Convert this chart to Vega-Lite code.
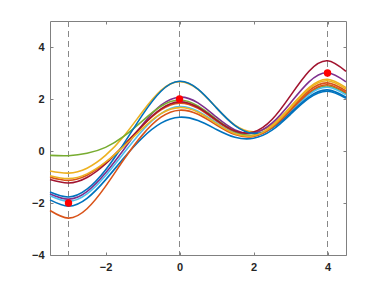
{
"$schema": "https://vega.github.io/schema/vega-lite/v6.json",
"width": 296, "height": 234,
"autosize": {"type": "none"},
"padding": {"left": 50, "top": 21, "right": 36, "bottom": 31},
"background": "white",
"config": {"view": {"stroke": null}, "font": "Liberation Sans"},
"datasets": {
"curves": [
{"c":"c01","x":-3.5,"y":-1.88},{"c":"c01","x":-3,"y":-2.12},{"c":"c01","x":-2.5,"y":-1.82},{"c":"c01","x":-2,"y":-1.11},{"c":"c01","x":-1.5,"y":-0.26},{"c":"c01","x":-1,"y":0.51},{"c":"c01","x":-0.5,"y":1.07},{"c":"c01","x":0,"y":1.30},{"c":"c01","x":0.5,"y":1.17},{"c":"c01","x":1,"y":0.83},{"c":"c01","x":1.5,"y":0.53},{"c":"c01","x":2,"y":0.49},{"c":"c01","x":2.5,"y":0.80},{"c":"c01","x":3,"y":1.41},{"c":"c01","x":3.5,"y":2.03},{"c":"c01","x":4,"y":2.30},{"c":"c01","x":4.5,"y":2.03},
{"c":"c02","x":-3.5,"y":-1.01},{"c":"c02","x":-3,"y":-1.13},{"c":"c02","x":-2.5,"y":-0.93},{"c":"c02","x":-2,"y":-0.45},{"c":"c02","x":-1.5,"y":0.23},{"c":"c02","x":-1,"y":0.97},{"c":"c02","x":-0.5,"y":1.58},{"c":"c02","x":0,"y":1.84},{"c":"c02","x":0.5,"y":1.64},{"c":"c02","x":1,"y":1.15},{"c":"c02","x":1.5,"y":0.72},{"c":"c02","x":2,"y":0.60},{"c":"c02","x":2.5,"y":0.93},{"c":"c02","x":3,"y":1.61},{"c":"c02","x":3.5,"y":2.32},{"c":"c02","x":4,"y":2.62},{"c":"c02","x":4.5,"y":2.31},
{"c":"c03","x":-3.5,"y":-0.77},{"c":"c03","x":-3,"y":-0.85},{"c":"c03","x":-2.5,"y":-0.66},{"c":"c03","x":-2,"y":-0.17},{"c":"c03","x":-1.5,"y":0.58},{"c":"c03","x":-1,"y":1.51},{"c":"c03","x":-0.5,"y":2.33},{"c":"c03","x":0,"y":2.67},{"c":"c03","x":0.5,"y":2.37},{"c":"c03","x":1,"y":1.66},{"c":"c03","x":1.5,"y":0.99},{"c":"c03","x":2,"y":0.74},{"c":"c03","x":2.5,"y":1.01},{"c":"c03","x":3,"y":1.70},{"c":"c03","x":3.5,"y":2.44},{"c":"c03","x":4,"y":2.76},{"c":"c03","x":4.5,"y":2.44},
{"c":"c04","x":-3.5,"y":-1.65},{"c":"c04","x":-3,"y":-1.85},{"c":"c04","x":-2.5,"y":-1.56},{"c":"c04","x":-2,"y":-0.85},{"c":"c04","x":-1.5,"y":0.07},{"c":"c04","x":-1,"y":1.01},{"c":"c04","x":-0.5,"y":1.76},{"c":"c04","x":0,"y":2.07},{"c":"c04","x":0.5,"y":1.85},{"c":"c04","x":1,"y":1.30},{"c":"c04","x":1.5,"y":0.81},{"c":"c04","x":2,"y":0.69},{"c":"c04","x":2.5,"y":1.07},{"c":"c04","x":3,"y":1.85},{"c":"c04","x":3.5,"y":2.66},{"c":"c04","x":4,"y":3.01},{"c":"c04","x":4.5,"y":2.66},
{"c":"c05","x":-3.5,"y":-0.17},{"c":"c05","x":-3,"y":-0.18},{"c":"c05","x":-2.5,"y":-0.09},{"c":"c05","x":-2,"y":0.14},{"c":"c05","x":-1.5,"y":0.57},{"c":"c05","x":-1,"y":1.16},{"c":"c05","x":-0.5,"y":1.72},{"c":"c05","x":0,"y":1.96},{"c":"c05","x":0.5,"y":1.73},{"c":"c05","x":1,"y":1.22},{"c":"c05","x":1.5,"y":0.75},{"c":"c05","x":2,"y":0.60},{"c":"c05","x":2.5,"y":0.90},{"c":"c05","x":3,"y":1.54},{"c":"c05","x":3.5,"y":2.21},{"c":"c05","x":4,"y":2.50},{"c":"c05","x":4.5,"y":2.21},
{"c":"c06","x":-3.5,"y":-1.72},{"c":"c06","x":-3,"y":-1.93},{"c":"c06","x":-2.5,"y":-1.65},{"c":"c06","x":-2,"y":-0.95},{"c":"c06","x":-1.5,"y":-0.07},{"c":"c06","x":-1,"y":0.79},{"c":"c06","x":-0.5,"y":1.44},{"c":"c06","x":0,"y":1.71},{"c":"c06","x":0.5,"y":1.53},{"c":"c06","x":1,"y":1.08},{"c":"c06","x":1.5,"y":0.67},{"c":"c06","x":2,"y":0.57},{"c":"c06","x":2.5,"y":0.87},{"c":"c06","x":3,"y":1.51},{"c":"c06","x":3.5,"y":2.17},{"c":"c06","x":4,"y":2.45},{"c":"c06","x":4.5,"y":2.16},
{"c":"c07","x":-3.5,"y":-1.10},{"c":"c07","x":-3,"y":-1.23},{"c":"c07","x":-2.5,"y":-1.02},{"c":"c07","x":-2,"y":-0.50},{"c":"c07","x":-1.5,"y":0.21},{"c":"c07","x":-1,"y":0.98},{"c":"c07","x":-0.5,"y":1.62},{"c":"c07","x":0,"y":1.89},{"c":"c07","x":0.5,"y":1.68},{"c":"c07","x":1,"y":1.19},{"c":"c07","x":1.5,"y":0.77},{"c":"c07","x":2,"y":0.73},{"c":"c07","x":2.5,"y":1.21},{"c":"c07","x":3,"y":2.13},{"c":"c07","x":3.5,"y":3.07},{"c":"c07","x":4,"y":3.47},{"c":"c07","x":4.5,"y":3.06},
{"c":"c08","x":-3.5,"y":-1.58},{"c":"c08","x":-3,"y":-1.77},{"c":"c08","x":-2.5,"y":-1.47},{"c":"c08","x":-2,"y":-0.73},{"c":"c08","x":-1.5,"y":0.29},{"c":"c08","x":-1,"y":1.39},{"c":"c08","x":-0.5,"y":2.30},{"c":"c08","x":0,"y":2.68},{"c":"c08","x":0.5,"y":2.38},{"c":"c08","x":1,"y":1.66},{"c":"c08","x":1.5,"y":0.98},{"c":"c08","x":2,"y":0.68},{"c":"c08","x":2.5,"y":0.88},{"c":"c08","x":3,"y":1.46},{"c":"c08","x":3.5,"y":2.08},{"c":"c08","x":4,"y":2.35},{"c":"c08","x":4.5,"y":2.07},
{"c":"c09","x":-3.5,"y":-2.29},{"c":"c09","x":-3,"y":-2.58},{"c":"c09","x":-2.5,"y":-2.22},{"c":"c09","x":-2,"y":-1.36},{"c":"c09","x":-1.5,"y":-0.32},{"c":"c09","x":-1,"y":0.62},{"c":"c09","x":-0.5,"y":1.30},{"c":"c09","x":0,"y":1.57},{"c":"c09","x":0.5,"y":1.41},{"c":"c09","x":1,"y":1.00},{"c":"c09","x":1.5,"y":0.63},{"c":"c09","x":2,"y":0.56},{"c":"c09","x":2.5,"y":0.90},{"c":"c09","x":3,"y":1.56},{"c":"c09","x":3.5,"y":2.25},{"c":"c09","x":4,"y":2.55},{"c":"c09","x":4.5,"y":2.25},
{"c":"c10","x":-3.5,"y":-0.95},{"c":"c10","x":-3,"y":-1.06},{"c":"c10","x":-2.5,"y":-0.88},{"c":"c10","x":-2,"y":-0.43},{"c":"c10","x":-1.5,"y":0.19},{"c":"c10","x":-1,"y":0.87},{"c":"c10","x":-0.5,"y":1.44},{"c":"c10","x":0,"y":1.67},{"c":"c10","x":0.5,"y":1.49},{"c":"c10","x":1,"y":1.05},{"c":"c10","x":1.5,"y":0.66},{"c":"c10","x":2,"y":0.59},{"c":"c10","x":2.5,"y":0.95},{"c":"c10","x":3,"y":1.66},{"c":"c10","x":3.5,"y":2.39},{"c":"c10","x":4,"y":2.70},{"c":"c10","x":4.5,"y":2.38}
],
"vlines": [{"x": -3}, {"x": 0}, {"x": 4}],
"pts": [{"x": -3, "y": -2}, {"x": 0, "y": 2}, {"x": 4, "y": 3}]
},
"resolve": {"axis": {"x": "independent", "y": "independent"}},
"layer": [
{
"data": {"name": "vlines"},
"mark": {"type": "rule", "color": "#888888", "strokeWidth": 1, "strokeDash": [6, 4]},
"encoding": {
"x": {"field": "x", "type": "quantitative",
"scale": {"domain": [-3.5, 4.5], "nice": false, "zero": false},
"axis": {"orient": "bottom", "values": [-2, 0, 2, 4], "title": null, "grid": false,
"domainColor": "#808080", "tickColor": "#808080", "tickSize": -3, "labelPadding": 9,
"labelFont": "Liberation Sans", "labelFontWeight": "bold", "labelFontSize": 11, "labelColor": "#262626"}}
}
},
{
"data": {"name": "curves"},
"mark": {"type": "line", "interpolate": "natural", "strokeWidth": 1.6},
"encoding": {
"x": {"field": "x", "type": "quantitative",
"scale": {"domain": [-3.5, 4.5], "nice": false, "zero": false},
"axis": {"orient": "top", "values": [-2, 0, 2, 4], "title": null, "grid": false, "labels": false,
"domainColor": "#808080", "tickColor": "#808080", "tickSize": -3}},
"y": {"field": "y", "type": "quantitative",
"scale": {"domain": [-4, 5], "nice": false, "zero": false},
"axis": {"orient": "left", "values": [-4, -2, 0, 2, 4], "title": null, "grid": false,
"domainColor": "#808080", "tickColor": "#808080", "tickSize": -3, "labelPadding": 9,
"labelFont": "Liberation Sans", "labelFontWeight": "bold", "labelFontSize": 11, "labelColor": "#262626"}},
"color": {"field": "c", "type": "nominal", "legend": null,
"scale": {"domain": ["c01","c02","c03","c04","c05","c06","c07","c08","c09","c10"],
"range": ["#0072BD","#D95319","#EDB120","#7E2F8E","#77AC30","#4DBEEE","#A2142F","#0072BD","#D95319","#EDB120"]}}
}
},
{
"data": {"name": "pts"},
"mark": {"type": "point", "filled": true, "shape": "circle", "size": 55, "color": "#FF0000", "opacity": 1},
"encoding": {
"x": {"field": "x", "type": "quantitative", "scale": {"domain": [-3.5, 4.5], "nice": false, "zero": false}, "axis": null},
"y": {"field": "y", "type": "quantitative",
"scale": {"domain": [-4, 5], "nice": false, "zero": false},
"axis": {"orient": "right", "values": [-4, -2, 0, 2, 4], "title": null, "grid": false, "labels": false,
"domainColor": "#808080", "tickColor": "#808080", "tickSize": -3}}
}
}
]
}
